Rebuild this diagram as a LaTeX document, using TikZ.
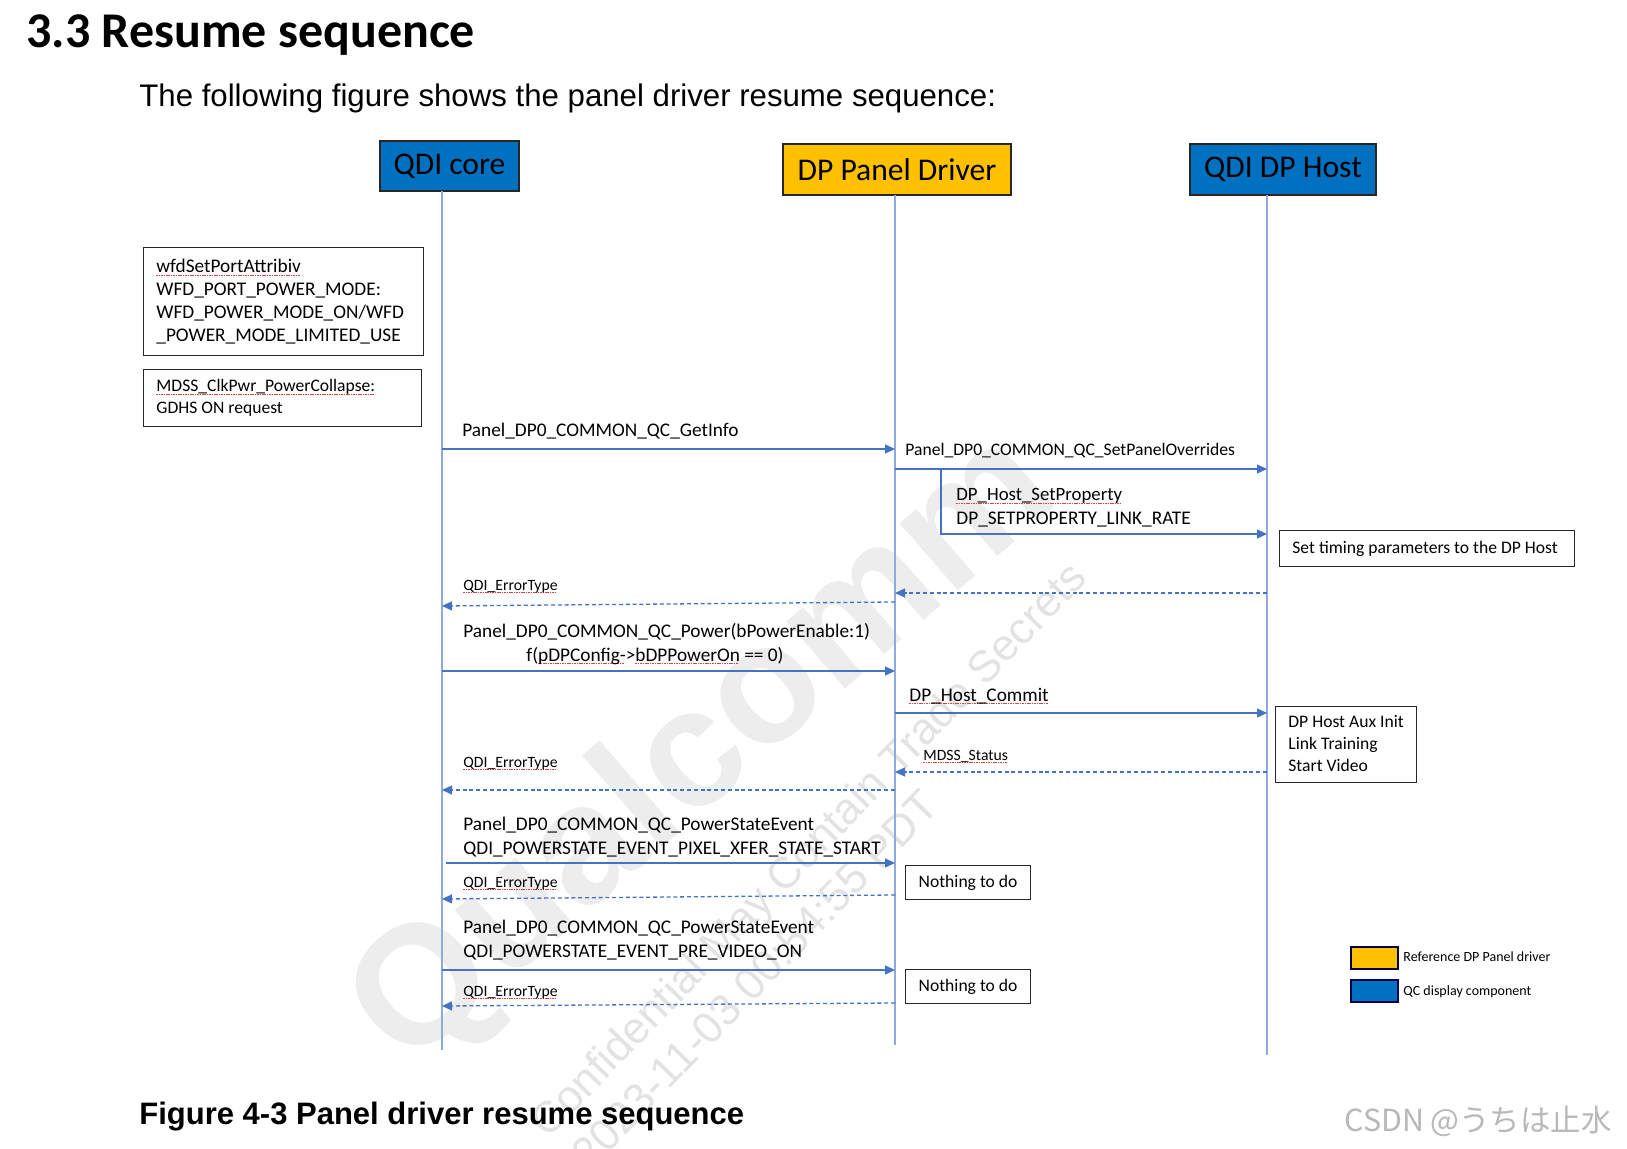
\documentclass[tikz,border=0pt]{standalone}
\usepackage{fontspec}
\setmainfont{Carlito}
\newfontfamily\arialf{Liberation Sans}
\newfontfamily\cjkf{Noto Sans CJK JP}
\usetikzlibrary{arrows.meta}
\definecolor{qblue}{HTML}{0070C0}
\definecolor{qyellow}{HTML}{FFC000}
\definecolor{lifec}{HTML}{8FAADC}
\definecolor{arrc}{HTML}{4472C4}
\definecolor{sqred}{HTML}{E04040}
\definecolor{wmark}{gray}{0.93}
\newsavebox\sqbox
\newcommand\sq[1]{\sbox\sqbox{#1}\rlap{\textcolor{sqred}{\leaders\hbox{\rule[-1.6pt]{0.8pt}{0.4pt}\kern0.4pt}\hskip\wd\sqbox}}\usebox\sqbox}
\tikzset{
  hdr/.style={draw=black!85, line width=0.7pt, inner sep=0pt, font=\fontsize{15.8}{18}\selectfont},
  life/.style={draw=lifec, line width=0.6pt},
  msg/.style={draw=arrc, line width=0.65pt, -{Triangle[length=5pt,width=4.5pt]}},
  ret/.style={msg, dash pattern=on 2pt off 1.4pt},
  lbl/.style={inner sep=0pt, anchor=base west, font=\fontsize{9.65}{11}\selectfont},
  slbl/.style={lbl, font=\fontsize{8.8}{11}\selectfont},
  tlbl/.style={lbl, font=\fontsize{7.85}{9}\selectfont},
  legl/.style={lbl, font=\fontsize{7}{8}\selectfont},
  note/.style={draw=black!85, line width=0.6pt, anchor=north west, inner sep=0pt},
  legbox/.style={draw=black!70!blue, line width=1pt, anchor=north west, inner sep=0pt, minimum width=23.5pt, minimum height=11pt},
  wm/.style={text=wmark, inner sep=0pt},
  wmt/.style={rotate=46, anchor=base west, text=black!11, inner sep=0pt, font=\arialf\fontsize{22}{26}\selectfont},
}
\begin{document}
\begin{tikzpicture}[x=0.5pt,y=-0.5pt]
\useasboundingbox (0,0) rectangle (1627,1149);
\fill[white] (0,0) rectangle (1627,1149);

% watermarks
\node[wm, rotate=41, font=\arialf\bfseries\fontsize{84}{90}\selectfont] (wmq) at (705,752) {Qualcomm};
\node[wmt] (wmc1) at (548,1140) {Confidential May Contain Trade Secrets};
\node[wmt] (wmc2) at (590,1172) {2023-11-03 00:54:55 PDT};

% title texts
\node[lbl, font=\bfseries\fontsize{25}{30}\selectfont] (title) at (26,48) {3.3 Resume sequence};
\node[lbl, font=\arialf\fontsize{15.6}{18}\selectfont] (subtitle) at (139,107) {The following figure shows the panel driver resume sequence:};
\node[lbl, font=\arialf\bfseries\fontsize{15.5}{18}\selectfont] (caption) at (139,1124) {Figure 4-3 Panel driver resume sequence};
\node[lbl, text=black!28, font=\cjkf\fontsize{15.2}{18}\selectfont] (csdn) at (1344,1131) {CSDN @うちは止水};

% headers
\node[hdr, fill=qblue, minimum width=69.5pt, minimum height=25pt] (core) at (449.5,166) {QDI core};
\node[hdr, fill=qyellow, minimum width=114pt, minimum height=25.5pt] (panel) at (897,169.5) {DP Panel Driver};
\node[hdr, fill=qblue, minimum width=93pt, minimum height=25.5pt] (host) at (1283,169.5) {QDI DP Host};

% lifelines
\coordinate (cT) at (442,191); \coordinate (cB) at (442,1050);
\coordinate (pT) at (895,195); \coordinate (pB) at (895,1045);
\coordinate (hT) at (1267,195); \coordinate (hB) at (1267,1055);
\draw[life] (cT) -- (cB);
\draw[life] (pT) -- (pB);
\draw[life] (hT) -- (hB);

% left notes
\node[note, minimum width=140pt, minimum height=54pt] (n1) at (143,247) {};
\node[lbl] (n1a) at (156,273) {\sq{wfdSetPortAttribiv}};
\node[lbl] (n1b) at (156,296) {WFD\_PORT\_POWER\_MODE:};
\node[lbl] (n1c) at (156,319) {WFD\_POWER\_MODE\_ON/WFD};
\node[lbl] (n1d) at (156,342) {\_POWER\_MODE\_LIMITED\_USE};
\node[note, minimum width=139pt, minimum height=28.5pt] (n2) at (143,369) {};
\node[slbl] (n2a) at (156,392) {\sq{MDSS\_ClkPwr\_PowerCollapse:}};
\node[slbl] (n2b) at (156,414) {GDHS ON request};

% message endpoints
\coordinate (a1s) at (442,449);  \coordinate (a1e) at (895,449);
\coordinate (a2s) at (895,469);  \coordinate (a2e) at (1267,469);
\coordinate (b1) at (941,469);   \coordinate (b2) at (941,534);  \coordinate (b3) at (1267,534);
\coordinate (r1s) at (1267,593); \coordinate (r1e) at (895,593);
\coordinate (r2s) at (895,602);  \coordinate (r2e) at (442,606);
\coordinate (a3s) at (442,671);  \coordinate (a3e) at (895,671);
\coordinate (a4s) at (895,713);  \coordinate (a4e) at (1267,713);
\coordinate (r3s) at (1267,772); \coordinate (r3e) at (895,772);
\coordinate (r4s) at (895,790);  \coordinate (r4e) at (442,790);
\coordinate (a5s) at (446,863);  \coordinate (a5e) at (895,863);
\coordinate (r5s) at (895,895);  \coordinate (r5e) at (442,899);
\coordinate (a6s) at (442,970);  \coordinate (a6e) at (895,970);
\coordinate (r6s) at (895,1003); \coordinate (r6e) at (442,1006);

\draw[msg] (a1s) -- (a1e);
\draw[msg] (a2s) -- (a2e);
\draw[msg] (b1) -- (b2) -- (b3);
\draw[ret] (r1s) -- (r1e);
\draw[ret] (r2s) -- (r2e);
\draw[msg] (a3s) -- (a3e);
\draw[msg] (a4s) -- (a4e);
\draw[ret] (r3s) -- (r3e);
\draw[ret] (r4s) -- (r4e);
\draw[msg] (a5s) -- (a5e);
\draw[ret] (r5s) -- (r5e);
\draw[msg] (a6s) -- (a6e);
\draw[ret] (r6s) -- (r6e);

% message labels
\node[lbl] (l1) at (462,437) {Panel\_DP0\_COMMON\_QC\_GetInfo};
\node[slbl] (l2) at (905,455.5) {Panel\_DP0\_COMMON\_QC\_SetPanelOverrides};
\node[lbl, font=\fontsize{9.4}{11}\selectfont] (l3a) at (956,501) {\sq{DP\_Host\_SetProperty}};
\node[lbl] (l3b) at (956,524) {DP\_SETPROPERTY\_LINK\_RATE};
\node[tlbl] (e1) at (463,590) {\sq{QDI\_ErrorType}};
\node[lbl] (l4a) at (463,637) {Panel\_DP0\_COMMON\_QC\_Power(bPowerEnable:1)};
\node[lbl] (l4b) at (526,661) {f(\sq{pDPConfig-}>\sq{bDPPowerOn} == 0)};
\node[lbl] (l5) at (909,701) {\sq{DP\_Host\_Commit}};
\node[tlbl] (l6) at (923,760) {\sq{MDSS\_Status}};
\node[tlbl] (e2) at (463,767) {\sq{QDI\_ErrorType}};
\node[lbl] (l7a) at (463,830) {Panel\_DP0\_COMMON\_QC\_PowerStateEvent};
\node[lbl] (l7b) at (463,854) {QDI\_POWERSTATE\_EVENT\_PIXEL\_XFER\_STATE\_START};
\node[tlbl] (e3) at (463,887) {\sq{QDI\_ErrorType}};
\node[lbl] (l8a) at (463,933) {Panel\_DP0\_COMMON\_QC\_PowerStateEvent};
\node[lbl] (l8b) at (463,957) {QDI\_POWERSTATE\_EVENT\_PRE\_VIDEO\_ON};
\node[tlbl] (e4) at (463,996) {\sq{QDI\_ErrorType}};

% right notes
\node[note, minimum width=147.5pt, minimum height=18pt] (t1) at (1279,530) {};
\node[slbl] (t1a) at (1292,553) {Set timing parameters to the DP Host};
\node[note, minimum width=70.5pt, minimum height=38pt] (t2) at (1275,706) {};
\node[slbl] (t2a) at (1288,727) {DP Host Aux Init};
\node[slbl] (t2b) at (1288,749) {Link Training};
\node[slbl] (t2c) at (1288,771) {Start Video};
\node[note, minimum width=62.5pt, minimum height=17pt, font=\fontsize{8.8}{11}\selectfont] (nd1) at (905,865) {Nothing to do};
\node[note, minimum width=62.5pt, minimum height=17pt, font=\fontsize{8.8}{11}\selectfont] (nd2) at (905,969) {Nothing to do};

% legend
\node[legbox, fill=qyellow] (lg1) at (1350,946) {};
\node[legl] (lg1t) at (1403,961) {Reference DP Panel driver};
\node[legbox, fill=qblue] (lg2) at (1350,979) {};
\node[legl] (lg2t) at (1403,995) {QC display component};
\end{tikzpicture}
\end{document}
